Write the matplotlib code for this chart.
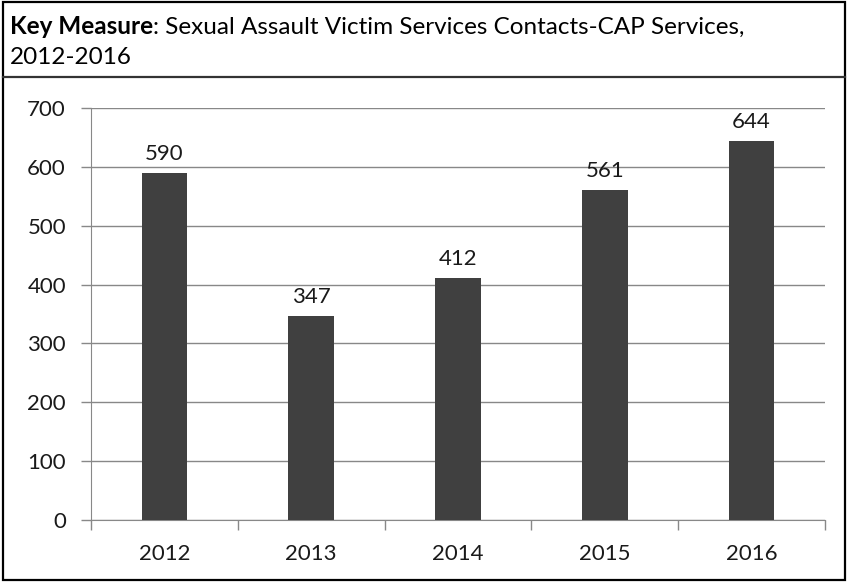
import matplotlib.pyplot as plt
from matplotlib.lines import Line2D
from matplotlib.patches import Rectangle

plt.rcParams['font.family'] = ['Lato', 'DejaVu Sans']

# Data
years = ["2012", "2013", "2014", "2015", "2016"]
contacts = [590, 347, 412, 561, 644]
y_ticks = [0, 100, 200, 300, 400, 500, 600, 700]

fig = plt.figure(figsize=(8.48, 5.84), dpi=100)

# outer frame and title separator
fig.patches.append(Rectangle((0.004, 0.006), 0.992, 0.99, transform=fig.transFigure,
                             fill=False, edgecolor="black", linewidth=1.6))
fig.lines.append(Line2D([0.004, 0.996], [1 - 77 / 584, 1 - 77 / 584], transform=fig.transFigure,
                        color="#333333", linewidth=1.6))

# title (bold part + normal part)
t1 = fig.text(10 / 848, 1 - 27 / 584, "Key Measure", fontsize=17.5, fontweight="bold",
              va="center", ha="left")
fig.canvas.draw()
bb = t1.get_window_extent()
fig.text(bb.x1 / 848, 1 - 27 / 584, ": Sexual Assault Victim Services Contacts-CAP Services,",
         fontsize=17.5, va="center", ha="left")
fig.text(10 / 848, 1 - 57 / 584, "2012-2016", fontsize=17.5, va="center", ha="left")

ax = fig.add_axes([91 / 848, 64 / 584, 734 / 848, 412 / 584])
x = range(len(years))
bars = ax.bar(x, contacts, width=0.31, color="#404040", zorder=3)
for xi, v in zip(x, contacts):
    ax.text(xi, v + 15, str(v), ha="center", va="bottom", fontsize=16, color="#1a1a1a")

ax.set_xlim(-0.5, len(years) - 0.5)
ax.set_ylim(0, 700)
ax.set_yticks(y_ticks)
ax.set_xticks(list(x))
ax.set_xticklabels(years)
ax.set_xticks([i - 0.5 for i in range(len(years) + 1)], minor=True)
ax.tick_params(axis="x", which="major", length=0, pad=17, labelsize=16, labelcolor="#1a1a1a")
ax.tick_params(axis="x", which="minor", length=7, color="#888888", width=1)
ax.tick_params(axis="y", length=7, color="#888888", width=1, pad=11, labelsize=16,
               labelcolor="#1a1a1a")
ax.grid(axis="y", color="#888888", linewidth=1, zorder=0)
for s in ["top", "right"]:
    ax.spines[s].set_visible(False)
ax.spines["left"].set_color("#888888")
ax.spines["bottom"].set_color("#888888")

fig.savefig("out.png", dpi=100)
